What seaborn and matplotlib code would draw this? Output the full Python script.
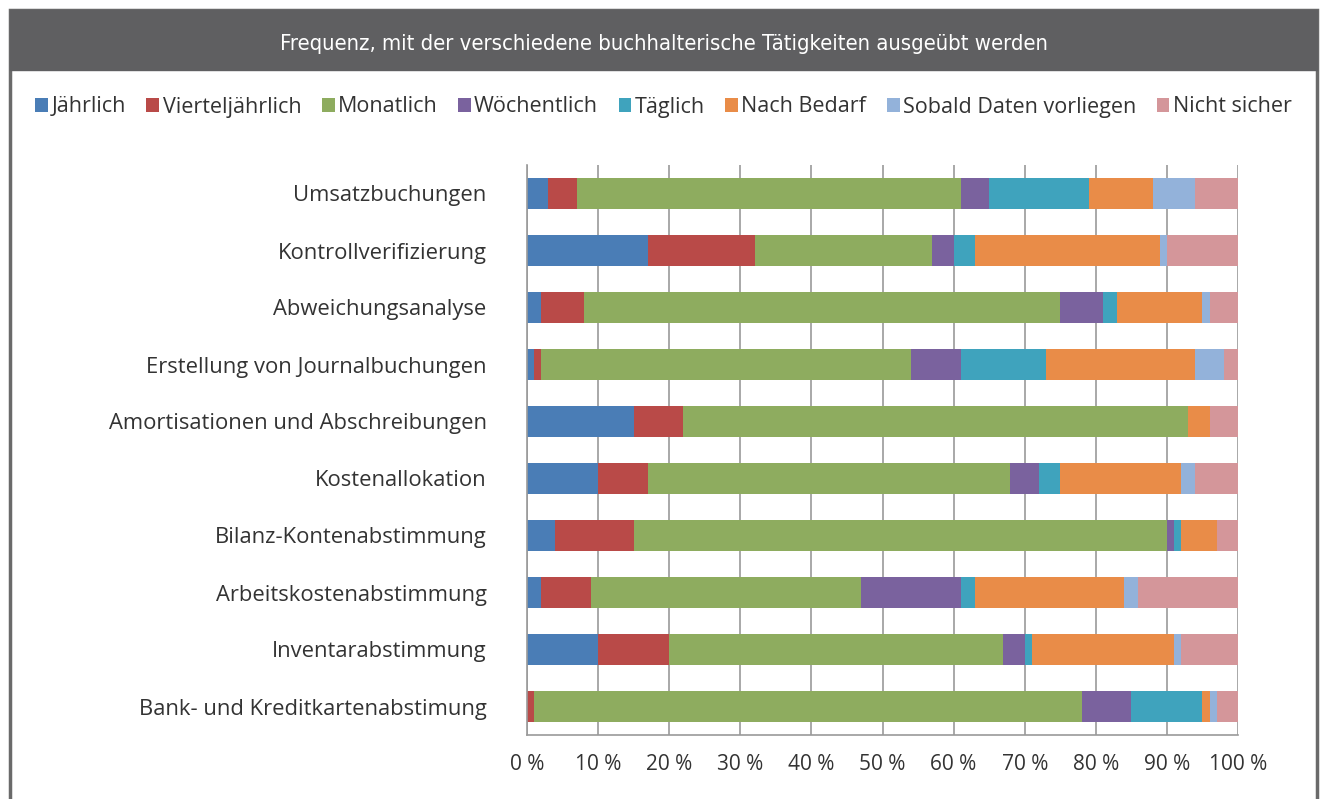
import numpy as np
import pandas as pd
import matplotlib
matplotlib.use("Agg")
import matplotlib.pyplot as plt
import seaborn as sns
from matplotlib.patches import Rectangle, Patch

categories = [
    "Umsatzbuchungen",
    "Kontrollverifizierung",
    "Abweichungsanalyse",
    "Erstellung von Journalbuchungen",
    "Amortisationen und Abschreibungen",
    "Kostenallokation",
    "Bilanz-Kontenabstimmung",
    "Arbeitskostenabstimmung",
    "Inventarabstimmung",
    "Bank- und Kreditkartenabstimung",
]

series_names = ["Jährlich", "Vierteljährlich", "Monatlich", "Wöchentlich",
                "Täglich", "Nach Bedarf", "Sobald Daten vorliegen", "Nicht sicher"]

jaehrlich = [3, 17, 2, 1, 15, 10, 4, 2, 10, 0]
vierteljaehrlich = [4, 15, 6, 1, 7, 7, 11, 7, 10, 1]
monatlich = [54, 25, 67, 52, 71, 51, 75, 38, 47, 77]
woechentlich = [4, 3, 6, 7, 0, 4, 1, 14, 3, 7]
taeglich = [14, 3, 2, 12, 0, 3, 1, 2, 1, 10]
nach_bedarf = [9, 26, 12, 21, 3, 17, 5, 21, 20, 1]
sobald = [6, 1, 1, 4, 0, 2, 0, 2, 1, 1]
nicht_sicher = [6, 10, 4, 2, 4, 6, 3, 14, 8, 3]

colors = ["#4a7db6", "#b94a48", "#8eac5f", "#7a629e",
          "#3fa3bd", "#e98c48", "#93b2da", "#d4969a"]

tick_labels = ["0 %", "10 %", "20 %", "30 %", "40 %", "50 %",
               "60 %", "70 %", "80 %", "90 %", "100 %"]

df = pd.DataFrame(
    [jaehrlich, vierteljaehrlich, monatlich, woechentlich,
     taeglich, nach_bedarf, sobald, nicht_sicher],
    index=series_names, columns=categories).T
cum = df.cumsum(axis=1)
cum["Kategorie"] = categories

sns.set_style("white")
plt.rcParams["font.family"] = ["Open Sans", "DejaVu Sans"]

fig = plt.figure(figsize=(13.27, 7.99), dpi=100)
ax = fig.add_axes([527 / 1327, 1 - 735 / 799, 711 / 1327, 570 / 799])

# stacked bars: draw cumulative totals from the outermost series inward
for name, col in reversed(list(zip(series_names, colors))):
    sns.barplot(data=cum, x=name, y="Kategorie", color=col, width=0.53,
                orient="h", ax=ax, linewidth=0, saturation=1)

ax.set_xlim(0, 100)
ax.set_xticks(np.arange(0, 101, 10))
ax.set_xticklabels(tick_labels, fontsize=15, color="#333333")
ax.set_xlabel("")
ax.set_ylabel("")
ax.tick_params(axis="y", labelsize=15.8, colors="#333333", length=0, pad=29)
ax.tick_params(axis="x", length=6, color="#999999", width=1, pad=8)
ax.set_axisbelow(True)
ax.grid(axis="x", color="#9a9a9a", linewidth=1.2)
for s in ["top", "right"]:
    ax.spines[s].set_visible(False)
for s in ["left", "bottom"]:
    ax.spines[s].set_color("#9a9a9a")
    ax.spines[s].set_linewidth(1.2)
ax.set_ylim(len(categories) - 0.5, -0.5)

# minor ticks on the category axis between bars
ax.set_yticks(np.arange(-0.5, len(categories), 1), minor=True)
ax.tick_params(axis="y", which="minor", length=6, color="#999999", width=1)

# frame and title bar
fig.patches.append(Rectangle((10 / 1327, -0.01), 1307 / 1327, 1 - 10 / 799 + 0.01,
                             transform=fig.transFigure, fill=False,
                             edgecolor="#6a6a6a", linewidth=2.5, zorder=0))
fig.patches.append(Rectangle((10 / 1327, 1 - 70 / 799), 1307 / 1327, 60 / 799,
                             transform=fig.transFigure, facecolor="#5f5f61",
                             edgecolor="#5f5f61", zorder=1))
fig.text(0.5, 1 - 44 / 799,
         "Frequenz, mit der verschiedene buchhalterische Tätigkeiten ausgeübt werden",
         ha="center", va="center", color="white", fontsize=15.8,
         family=["DejaVu Sans"], fontstretch="condensed")

handles = [Patch(facecolor=c, edgecolor="none") for c in colors]
fig.legend(handles, series_names, loc="center", bbox_to_anchor=(0.5, 1 - 107 / 799),
           ncol=8, frameon=False, fontsize=15.5, handlelength=0.6,
           handleheight=0.6, handletextpad=0.15, columnspacing=0.95,
           labelcolor="#333333")

fig.savefig("out.png", dpi=100)
